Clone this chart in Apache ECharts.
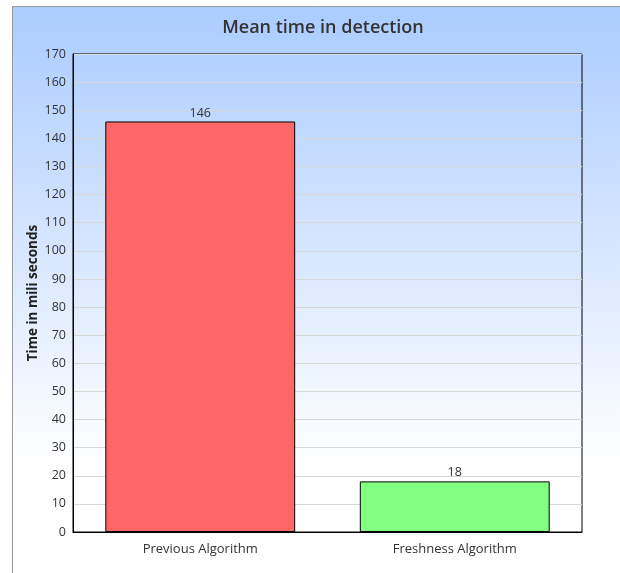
<!DOCTYPE html>
<html><head><meta charset="utf-8">
<script src="https://cdn.jsdelivr.net/npm/echarts@6/dist/echarts.min.js"></script>
<style>html,body{margin:0;padding:0;background:#fff}#c{width:620px;height:573px}</style>
</head><body><div id="c"></div>
<script>
const categories = ['Previous Algorithm', 'Freshness Algorithm'];
const values = [146, 18];
const barColors = ['#ff6666', '#80ff80'];
const chart = echarts.init(document.getElementById('c'), null, {renderer: 'canvas'});
const font = 'Open Sans';
chart.setOption({
  animation: false,
  textStyle: {fontFamily: font},
  graphic: [{
    type: 'rect', z: -10, silent: true,
    shape: {x: 12.5, y: 6.5, width: 640, height: 600},
    style: {
      fill: new echarts.graphic.LinearGradient(0, 0, 0, 1, [
        {offset: 0, color: '#aaccff'},
        {offset: 0.4, color: '#d6e6ff'},
        {offset: 0.76, color: '#ffffff'},
        {offset: 1, color: '#ffffff'}
      ]),
      stroke: '#999', lineWidth: 1
    }
  }, {
    type: 'text', z: 10, silent: true,
    style: {
      text: 'Mean time in detection', x: 323, y: 28, align: 'center', verticalAlign: 'middle',
      font: '600 18px "Open Sans"', fill: '#333'
    }
  }],
  grid: {left: 73, right: 38, top: 54, bottom: 41, show: true, borderColor: '#000', borderWidth: 1, backgroundColor: 'transparent'},
  xAxis: {
    type: 'category', data: categories,
    axisLine: {show: true, lineStyle: {color: '#000'}},
    axisTick: {show: false},
    axisLabel: {color: '#333', fontSize: 13, margin: 11, fontFamily: font}
  },
  yAxis: {
    type: 'value', min: 0, max: 170, interval: 10,
    name: 'Time in mili seconds', nameLocation: 'middle', nameGap: 33, nameMoveOverlap: false,
    nameTextStyle: {fontFamily: font, fontSize: 13.5, fontWeight: 'bold', color: '#222'},
    axisLine: {show: true, lineStyle: {color: '#000'}},
    axisTick: {show: false},
    axisLabel: {color: '#333', fontSize: 12.5, margin: 7, fontFamily: font},
    splitLine: {lineStyle: {color: '#d8d8d8'}}
  },
  series: [{
    type: 'bar',
    data: values.map((v, i) => ({value: v, itemStyle: {color: barColors[i]}})),
    barWidth: '74.6%',
    itemStyle: {borderColor: '#000', borderWidth: 1},
    label: {show: true, position: 'top', distance: 2, color: '#333', fontSize: 12.5, fontFamily: font}
  }]
});
</script></body></html>
